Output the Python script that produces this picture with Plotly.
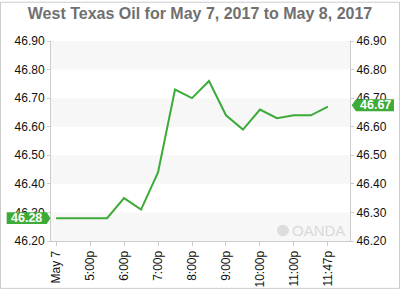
import plotly.graph_objects as go

# Data
times = ["4:00p", "4:30p", "5:00p", "5:30p", "6:00p", "6:30p", "7:00p", "7:30p", "8:00p",
         "8:30p", "9:00p", "9:30p", "10:00p", "10:30p", "11:00p", "11:30p", "11:47p"]
prices = [46.28, 46.28, 46.28, 46.28, 46.35, 46.31, 46.44, 46.73, 46.70, 46.76,
          46.64, 46.59, 46.66, 46.63, 46.64, 46.64, 46.67]
tick_idx = [0, 2, 4, 6, 8, 10, 12, 14, 16]
tick_labels = ["May 7", "5:00p", "6:00p", "7:00p", "8:00p", "9:00p", "10:00p", "11:00p", "11:47p"]
y_ticks = [46.2, 46.3, 46.4, 46.5, 46.6, 46.7, 46.8, 46.9]
title = "West Texas Oil for May 7, 2017 to May 8, 2017"

GREEN = "#3dab38"
W, H = 400, 300
L, R, T, B = 51, 50, 41, 50
PW, PH = W - L - R, H - T - B
YMIN, YMAX = 46.2, 46.9


def px(x):
    return (x - L) / PW


def py(y):
    return (H - B - y) / PH


def dy(pixels):
    return pixels * (YMAX - YMIN) / PH


x = list(range(len(prices)))

fig = go.Figure()
fig.add_trace(go.Scatter(x=x, y=prices, mode="lines",
                         line=dict(color=GREEN, width=2), hoverinfo="skip",
                         showlegend=False))
fig.add_trace(go.Scatter(x=x, y=prices, mode="lines", yaxis="y2",
                         line=dict(color="rgba(0,0,0,0)", width=0), hoverinfo="skip",
                         showlegend=False))

shapes = []
# alternating bands
for i in range(0, len(y_ticks) - 1, 2):
    shapes.append(dict(type="rect", xref="paper", yref="y", x0=0, x1=1,
                       y0=y_ticks[i], y1=y_ticks[i + 1], fillcolor="#f7f7f7",
                       line=dict(width=0), layer="below"))

# outer border
shapes.append(dict(type="rect", xref="paper", yref="paper",
                   x0=px(0.5), x1=px(W - 0.5), y0=py(H - 0.5), y1=py(0.5),
                   line=dict(color="#cccccc", width=1)))


def label_path(left, right, tip, yc, tip_left):
    h = dy(6.2)
    if tip_left:
        pts = [(px(tip), yc), (px(left), yc + h), (px(right), yc + h),
               (px(right), yc - h), (px(left), yc - h)]
    else:
        pts = [(px(left), yc + h), (px(right), yc + h), (px(tip), yc),
               (px(right), yc - h), (px(left), yc - h)]
    return "M " + " L ".join(f"{a},{b}" for a, b in pts) + " Z"


first, last = prices[0], prices[-1]
shapes.append(dict(type="path", xref="paper", yref="y",
                   path=label_path(6.7, 46.7, 50.5, first, False),
                   fillcolor=GREEN, line=dict(width=0)))
shapes.append(dict(type="path", xref="paper", yref="y",
                   path=label_path(356, 394, 351.7, last + dy(1.5), True),
                   fillcolor=GREEN, line=dict(width=0)))

# watermark logo
shapes.append(dict(type="circle", xref="paper", yref="paper",
                   x0=px(277), x1=px(289), y0=py(245), y1=py(233),
                   fillcolor="#dddddd", line=dict(width=0)))

annotations = [
    dict(xref="paper", yref="y", x=px(26.7), y=first, text=f"{first:.2f}",
         showarrow=False, font=dict(family="Arial", size=12.5, color="white", weight="bold"),
         xanchor="center", yanchor="middle"),
    dict(xref="paper", yref="y", x=px(375), y=last + dy(1.5), text=f"{last:.2f}",
         showarrow=False, font=dict(family="Arial", size=12.5, color="white", weight="bold"),
         xanchor="center", yanchor="middle"),
    dict(xref="paper", yref="paper", x=px(318), y=py(239), text="OANDA",
         showarrow=False, font=dict(family="Arial", size=15, color="#d9d9d9"),
         xanchor="center", yanchor="middle"),
]

axis_font = dict(family="Arial", size=12, color="#111111")
yaxis_common = dict(range=[YMIN, YMAX], tickvals=y_ticks, tickformat=".2f",
                    showgrid=False, zeroline=False, showline=True, linecolor="#cccccc",
                    linewidth=1, ticks="outside", ticklen=3, tickcolor="#cccccc",
                    tickfont=axis_font, fixedrange=True)

fig.update_layout(
    width=W, height=H,
    margin=dict(l=L, r=R, t=T, b=B, pad=0),
    paper_bgcolor="white", plot_bgcolor="white",
    title=dict(text=title, x=0.5, xanchor="center", y=1 - 13 / H, yanchor="middle",
               font=dict(family="Arial", size=16, color="#707070", weight="bold")),
    xaxis=dict(range=[-0.3, len(prices) - 1 + 1.3], tickvals=tick_idx, ticktext=tick_labels,
               tickangle=-90, showgrid=False, zeroline=False, showline=True,
               linecolor="#cccccc", linewidth=1, ticks="outside", ticklen=4,
               tickcolor="#cccccc", tickfont=axis_font, fixedrange=True),
    yaxis=dict(**yaxis_common, side="left"),
    yaxis2=dict(**yaxis_common, side="right", overlaying="y"),
    shapes=shapes,
    annotations=annotations,
    showlegend=False,
)

fig.write_html("out.html", config={"displayModeBar": False})
